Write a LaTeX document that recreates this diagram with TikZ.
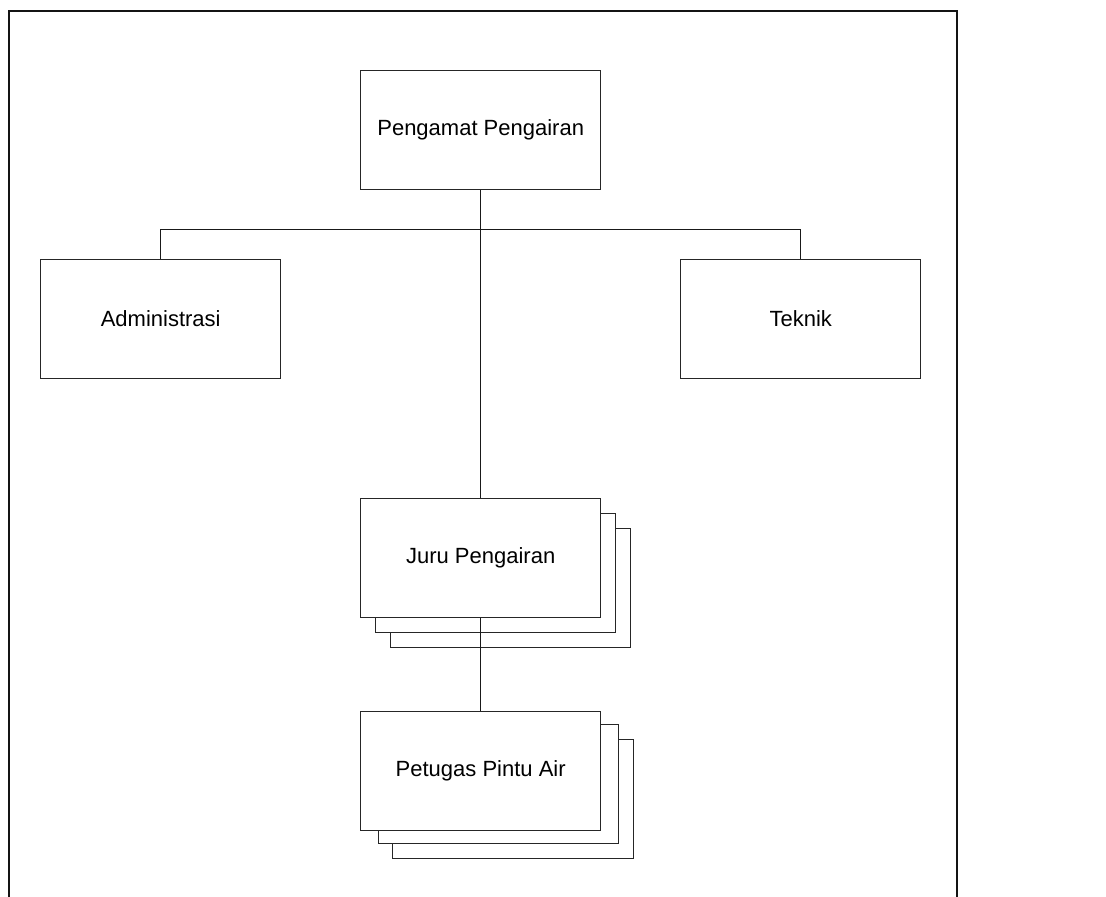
\documentclass[tikz,border=0pt]{standalone}
\usepackage{fontspec}
\setmainfont{Liberation Sans}
\begin{document}
\begin{tikzpicture}[x=1pt,y=-1pt,
  box/.style={draw=black!85,line width=1pt,fill=white,minimum width=240pt,minimum height=119pt,inner sep=0pt,font=\fontsize{22}{26}\selectfont},
  shadowbox/.style={draw=black!85,line width=1pt,fill=white},
  conn/.style={draw=black!90,line width=1pt},
  frame/.style={draw=black!92,line width=2pt}]
\useasboundingbox (0,0) rectangle (1106,897);
% frame
\draw[frame] (9,897) -- (9,11) -- (957,11) -- (957,897);
% shadows
\draw[shadowbox] (390.5,528) rectangle (630.5,647);
\draw[shadowbox] (375.5,513) rectangle (615.5,632);
\draw[shadowbox] (392.7,739) rectangle (633.3,858.3);
\draw[shadowbox] (378,724) rectangle (618,843.3);
% nodes
\node[box] (peng) at (480.7,130.3) {Pengamat Pengairan};
\node[box] (adm) at (160.7,318.8) {Administrasi};
\node[box] (tek) at (800.7,318.8) {Teknik};
\node[box] (juru) at (480.7,557.5) {Juru Pengairan};
\node[box] (pet) at (480.7,771.2) {Petugas Pintu Air};
% connectors
\coordinate (hub) at (480.7,229.5);
\draw[conn] (peng.south) -- (juru.north);
\draw[conn] (adm.north) |- (hub) -| (tek.north);
\draw[conn] (juru.south) -- (pet.north);
\end{tikzpicture}
\end{document}
